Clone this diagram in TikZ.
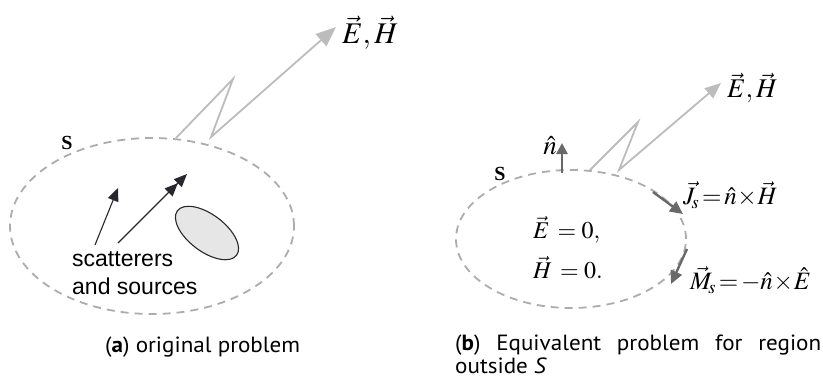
\documentclass[tikz,border=0pt]{standalone}
\usepackage{mathptmx}
\usepackage{fontspec}
\setmainfont{Liberation Serif}
\newfontfamily\labfont{Liberation Sans}
\newfontfamily\capfont[FakeStretch=1.05]{PT Sans}
\usetikzlibrary{arrows.meta,shapes.geometric}
\definecolor{dashgray}{RGB}{172,172,172}
\definecolor{ziggray}{RGB}{188,188,188}
\definecolor{darkline}{RGB}{40,40,44}
\definecolor{midgray}{RGB}{105,105,105}
\definecolor{blobfill}{RGB}{230,230,230}
\tikzset{
  surface/.style={ellipse, draw=dashgray, line width=1.8pt, dash pattern=on 8pt off 6pt, inner sep=0pt},
  zig/.style={draw=ziggray, line width=1.8pt, -{Triangle[length=20pt,width=16pt]}, fill=none},
  zigsmall/.style={draw=ziggray, line width=1.8pt, -{Triangle[length=16pt,width=13pt]}, fill=none},
  srcarrow/.style={draw=darkline, line width=1.1pt, -{Triangle[length=13pt,width=11pt]}},
  dblarrow/.style={draw=darkline, line width=1.1pt, -{Triangle[length=13pt,width=11pt]Triangle[length=13pt,width=11pt]}},
  curarrow/.style={draw=midgray, line width=2.4pt, -{Triangle[length=13pt,width=12pt]}},
  narrow/.style={draw=midgray, line width=2.6pt, -{Triangle[length=11pt,width=11pt]}},
  bigmath/.style={font=\fontsize{30}{34}\selectfont, inner sep=0pt},
  rmath/.style={font=\fontsize{27}{31}\selectfont, inner sep=0pt},
  midmath/.style={font=\fontsize{25}{29}\selectfont, inner sep=0pt},
  eqmath/.style={font=\fontsize{24}{28}\selectfont, inner sep=0pt},
  slabel/.style={font=\fontsize{20}{24}\selectfont\bfseries, inner sep=0pt},
  caption/.style={font=\fontsize{22}{23}\selectfont\capfont, inner sep=0pt, anchor=base west},
}
\begin{document}
\begin{tikzpicture}[x=1pt,y=-1pt]
\useasboundingbox (0,0) rectangle (823,376);
% ---------- (a) ----------
\node[surface, minimum width=284pt, minimum height=176pt] (S1) at (152,226) {};
\node[slabel] (s1lab) at (67,143) {S};
\node[ellipse, draw=darkline, line width=1.1pt, fill=blobfill, minimum width=74pt, minimum height=37pt, rotate=-37] (blob) at (207,233) {};
\coordinate (a1s) at (95,245);
\coordinate (a1e) at (118,188);
\coordinate (a2s) at (118,243);
\coordinate (a2e) at (187,174);
\draw[srcarrow] (a1s) -- (a1e);
\draw[dblarrow] (a2s) -- (a2e);
\node[font=\fontsize{23}{27.5}\selectfont\labfont, align=left, anchor=west, inner sep=0pt] (srcs) at (72,273) {scatterers\\and sources};
\coordinate (z1) at (176,138);
\coordinate (z2) at (233,79);
\coordinate (z3) at (211,137);
\node[bigmath, anchor=west] (EH1) at (342,33) {$\vec{E},\vec{H}$};
\coordinate (z4) at (336,27);
\draw[zig] (z1) -- (z2) -- (z3) -- (z4);
\node[caption] (capa) at (105,352) {(\textbf{a}) original problem};
% ---------- (b) ----------
\node[surface, minimum width=230pt, minimum height=138pt] (S2) at (571,239) {};
\node[slabel] (s2lab) at (500,174) {S};
\coordinate (n0) at (562,173);
\coordinate (n1) at (562,143);
\draw[narrow] (n0) -- (n1);
\node[rmath, anchor=east] (nhat) at (557,146) {$\hat{n}$};
\coordinate (y1) at (590,170);
\coordinate (y2) at (638,122);
\coordinate (y3) at (619,170);
\coordinate (y4) at (721,83);
\draw[zigsmall] (y1) -- (y2) -- (y3) -- (y4);
\node[rmath, anchor=west] (EH2) at (727,88) {$\vec{E},\vec{H}$};
\coordinate (j0) at (653,192);
\coordinate (j1) at (683,214);
\draw[curarrow] (j0) -- (j1);
\node[midmath, anchor=west] (Jlab) at (683,195) {$\vec{J}_{\!s}\!=\!\hat{n}\!\times\!\vec{H}$};
\coordinate (m0) at (687,249);
\coordinate (m1) at (671,284);
\draw[curarrow] (m0) -- (m1);
\node[midmath, anchor=west] (Mlab) at (690,280) {$\vec{M}_{\!s}\!=\!-\hat{n}\!\times\!\hat{E}$};
\node[eqmath, anchor=west] (E0) at (533,230) {$\vec{E}\,=0,$};
\node[eqmath, anchor=west] (H0) at (533,268) {$\vec{H}\,=0.$};
\node[caption] (capb1) at (455,350) {\hbox to 366pt{(\textbf{b})\hfill Equivalent\hfill problem\hfill for\hfill region}};
\node[caption] (capb2) at (455,373) {outside \textit{S}};
\end{tikzpicture}
\end{document}
